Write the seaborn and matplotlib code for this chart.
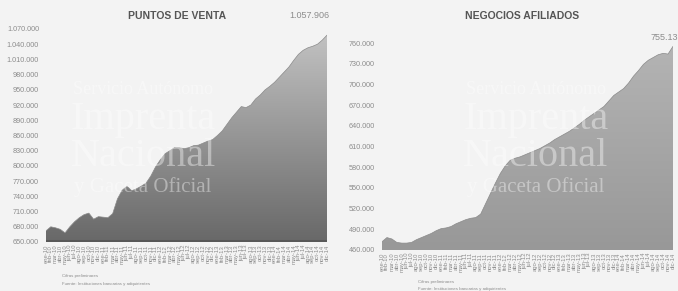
import numpy as np
import matplotlib
matplotlib.use("Agg")
import matplotlib.pyplot as plt
import seaborn as sns
from matplotlib.colors import LinearSegmentedColormap
from matplotlib.patches import PathPatch
from matplotlib.ticker import FuncFormatter

# Datos (miles)
meses = ['ene', 'feb', 'mar', 'abr', 'may', 'jun', 'jul', 'ago', 'sep', 'oct', 'nov', 'dic']
anios = ['10', '11', '12', '13', '14']
etiquetas = [f'{m}-{a}' for a in anios for m in meses]

puntos_venta = [672, 680, 678, 675, 668, 680, 690, 698, 704, 707,
                695, 700, 699, 698, 706, 735, 752, 760, 751, 755,
                760, 766, 780, 798, 812, 824, 830, 836, 836, 834,
                836, 840, 841, 845, 849, 852, 860, 869, 882, 895,
                906, 917, 915, 920, 932, 940, 950, 957, 965, 975,
                985, 995, 1008, 1020, 1028, 1033, 1036, 1040, 1048, 1057.906]

negocios_afiliados = [472, 478, 476, 471, 470, 470, 471, 475, 478, 481,
                      484, 488, 491, 492, 494, 498, 501, 504, 506, 507,
                      512, 527, 542, 557, 571, 582, 590, 593, 595, 598,
                      601, 604, 607, 611, 615, 620, 624, 628, 632, 637,
                      642, 648, 653, 658, 663, 668, 676, 684, 689, 694,
                      702, 712, 720, 729, 735, 739, 743, 745, 744, 755.136]

yticks_pv = list(range(650, 1071, 30))
yticks_na = list(range(460, 761, 30))

sns.set_style('white')
plt.rcParams['font.family'] = ['Liberation Sans', 'DejaVu Sans']

fig = plt.figure(figsize=(6.78, 2.91), dpi=100)
fig.patch.set_facecolor('#f3f3f3')

fmt = FuncFormatter(lambda v, p: f'{int(v * 1000):,}'.replace(',', '.'))


def area_degradada(ax, valores, ymin, ymax, c_bajo, c_alto):
    x = np.arange(len(valores))
    poly = ax.fill_between(x, valores, ymin, facecolor='none', edgecolor='none')
    patch = PathPatch(poly.get_paths()[0], transform=ax.transData,
                      facecolor='none', edgecolor='none')
    ax.add_patch(patch)
    cmap = LinearSegmentedColormap.from_list('g', [c_bajo, c_alto])
    grad = np.linspace(0, 1, 256).reshape(-1, 1)
    im = ax.imshow(grad, extent=[0, len(valores) - 1, ymin, ymax], origin='lower',
                   aspect='auto', cmap=cmap, zorder=1)
    im.set_clip_path(patch)
    sns.lineplot(x=x, y=valores, ax=ax, color='#8a8a8a', linewidth=0.5, zorder=2)
    ax.set_xlim(0, len(valores) - 1)
    ax.set_ylim(ymin, ymax)


def estilo(ax, yticks):
    ax.set_facecolor('none')
    ax.set_yticks(yticks)
    ax.yaxis.set_major_formatter(fmt)
    ax.set_xticks(range(len(etiquetas)))
    ax.set_xticklabels(etiquetas, rotation=90, fontsize=4.2, color='#8c8c8c')
    ax.tick_params(axis='y', labelsize=5.2, labelcolor='#8c8c8c', length=0, pad=5)
    ax.tick_params(axis='x', length=0, pad=2)
    for s in ax.spines.values():
        s.set_visible(False)
    ax.set_xlabel('')
    ax.set_ylabel('')


# Puntos de venta
ax1 = fig.add_axes([46 / 678, 49 / 291, 281 / 678, 213 / 291])
area_degradada(ax1, puntos_venta, 650, 1070, '#686868', '#c4c4c4')
estilo(ax1, yticks_pv)
ax1.axhline(651, color='#555555', linewidth=1.2, zorder=3)

# Negocios afiliados
ax2 = fig.add_axes([382 / 678, 41 / 291, 291 / 678, 207 / 291])
area_degradada(ax2, negocios_afiliados, 460, 760, '#989898', '#b4b4b4')
estilo(ax2, yticks_na)

fig.text(177 / 678, 1 - 16 / 291, 'PUNTOS DE VENTA', ha='center', va='center',
         fontsize=7.5, fontweight='bold', color='#555555')
fig.text(522 / 678, 1 - 16 / 291, 'NEGOCIOS AFILIADOS', ha='center', va='center',
         fontsize=7.5, fontweight='bold', color='#555555')
fig.text(309 / 678, 1 - 16 / 291, '1.057.906', ha='center', va='center',
         fontsize=6.5, color='#8c8c8c')
fig.text(651 / 678, 1 - 38 / 291, '755.136', ha='left', va='center',
         fontsize=6.5, color='#8c8c8c')

# Notas
fig.text(62 / 678, 1 - 276 / 291, 'Cifras preliminares', fontsize=3.2,
         color='#8c8c8c', va='center')
fig.text(62 / 678, 1 - 284 / 291, 'Fuente: Instituciones bancarias y adquirientes',
         fontsize=3.2, color='#8c8c8c', va='center')
fig.text(418 / 678, 1 - 282 / 291, 'Cifras preliminares', fontsize=3.2,
         color='#8c8c8c', va='center')
fig.text(418 / 678, 1 - 289 / 291, 'Fuente: Instituciones bancarias y adquirientes',
         fontsize=3.2, color='#8c8c8c', va='center')

# Marca de agua
for cx in (143, 536):
    fig.text(cx / 678, 1 - 90 / 291, 'Servicio Autónomo', ha='center', va='center',
             fontsize=13, family='Liberation Serif', color='white', alpha=0.4)
    fig.text(cx / 678, 1 - 120 / 291, 'Imprenta', ha='center', va='center',
             fontsize=29, family='Liberation Serif', color='white', alpha=0.4)
    fig.text(cx / 678, 1 - 157 / 291, 'Nacional', ha='center', va='center',
             fontsize=29, family='Liberation Serif', color='white', alpha=0.4)
    fig.text(cx / 678, 1 - 187 / 291, 'y Gaceta Oficial', ha='center', va='center',
             fontsize=15, family='Liberation Serif', color='white', alpha=0.4)

plt.savefig('out.png', dpi=100, facecolor=fig.get_facecolor())
